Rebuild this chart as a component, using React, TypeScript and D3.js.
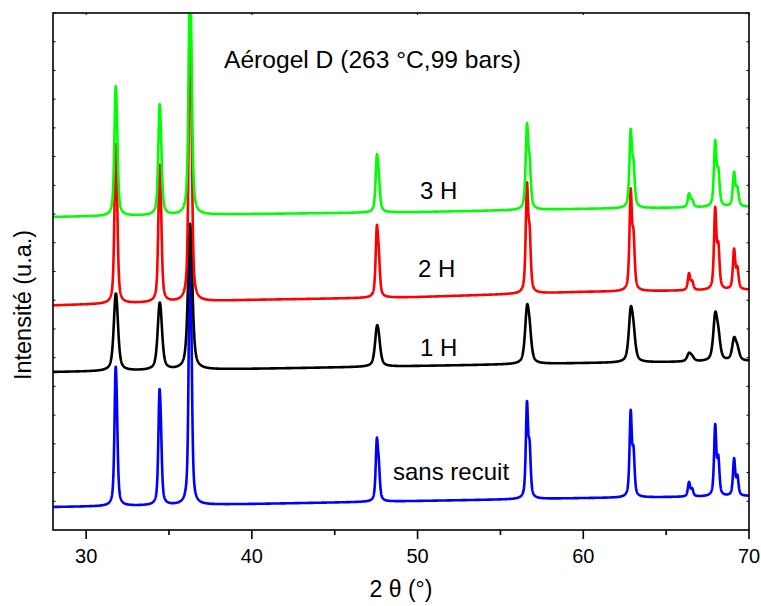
import React, { useMemo } from 'react';
import * as d3 from 'd3';

// ---- data ----
const seriesLabels = ['sans recuit', '1 H', '2 H', '3 H'];
const seriesColors = ['#0000ff', '#000000', '#ff0000', '#00ff00'];
// Peak positions (2θ, °): Kα1 and Kα2 components
const ka1Pos = [31.77, 34.42, 36.25, 47.54, 56.6, 62.86, 66.38, 67.96, 69.1];
const ka2Pos = [31.85, 34.51, 36.34, 47.66, 56.76, 63.03, 66.57, 68.15, 69.3];
// Peak heights per series (arbitrary units above the local baseline)
const blueKa1 = [3.8, 3.26, 7.5, 1.95, 3.18, 2.87, 0.49, 2.4, 1.26];
const blueKa2 = [1.9, 1.63, 3.75, 0.98, 1.59, 1.43, 0.25, 1.2, 0.63];
const blackKa1 = [1.91, 1.68, 3.65, 1.09, 1.69, 1.62, 0.26, 1.47, 0.71];
const blackKa2 = [0.95, 0.84, 1.82, 0.55, 0.85, 0.81, 0.13, 0.73, 0.36];
const redKa1 = [4.28, 3.8, 8.15, 2.18, 3.57, 3.34, 0.57, 2.74, 1.36];
const redKa2 = [2.14, 1.9, 4.08, 1.09, 1.79, 1.67, 0.28, 1.37, 0.68];
const greenKa1 = [3.44, 3.02, 6.53, 1.72, 2.75, 2.55, 0.46, 2.19, 1.15];
const greenKa2 = [1.72, 1.51, 3.26, 0.86, 1.38, 1.28, 0.23, 1.1, 0.58];
// Half widths at half maximum (°)
const halfWidths = [0.08, 0.14, 0.085, 0.09];
// Baselines (offset stacking)
const baselineX = [28, 40, 50, 60, 70];
const blueBase = [0.8, 0.905, 1.01, 1.11, 1.18];
const blackBase = [5.5, 5.61, 5.71, 5.81, 5.88];
const redBase = [7.82, 8.01, 8.11, 8.29, 8.36];
const greenBase = [10.9, 11.0, 11.07, 11.18, 11.25];

const xDomain = [28, 70];
const yDomain = [0, 18];
const xMajorTicks = [30, 40, 50, 60, 70];
const xMinorTicks = [35, 45, 55, 65];

const title = 'Aérogel D (263 °C,99 bars)';
const xTitle = '2 θ (°)';
const yTitle = 'Intensité (u.a.)';

const ka1Sets = [blueKa1, blackKa1, redKa1, greenKa1];
const ka2Sets = [blueKa2, blackKa2, redKa2, greenKa2];
const baseSets = [blueBase, blackBase, redBase, greenBase];

const W = 761;
const H = 606;
const M = { left: 53, right: 749, top: 13, bottom: 530 };
const FONT = '"Liberation Sans", Arial, Helvetica, sans-serif';

function pv(x: number, x0: number, h: number, w: number) {
  const r = (x - x0) / w;
  const r2 = r * r;
  const eta = 0.6;
  return h * (eta / (1 + r2) + (1 - eta) * Math.exp(-Math.LN2 * r2));
}

export default function App() {
  const x = d3.scaleLinear().domain(xDomain).range([M.left, M.right]);
  const y = d3.scaleLinear().domain(yDomain).range([M.bottom, M.top]);

  const paths = useMemo(() => {
    const grid = d3.range(xDomain[0], xDomain[1] + 1e-9, 0.01);
    return ka1Sets.map((ka1, si) => {
      const base = d3.scaleLinear().domain(baselineX).range(baseSets[si]);
      const w = halfWidths[si];
      const pts: [number, number][] = grid.map((t) => {
        let v = base(t);
        for (let k = 0; k < ka1Pos.length; k++) {
          v += pv(t, ka1Pos[k], ka1[k], w);
          v += pv(t, ka2Pos[k], ka2Sets[si][k], w);
        }
        return [t, v];
      });
      const line = d3
        .line<[number, number]>()
        .x((d) => x(d[0]))
        .y((d) => y(d[1]));
      return line(pts) || '';
    });
  }, []);

  const yTicks = d3.range(yDomain[0] + 1, yDomain[1] + 1, 1);

  return (
    <svg
      width={W}
      height={H}
      style={{ position: 'absolute', left: 0, top: 0, background: '#fff' }}
      fontFamily={FONT}
    >
      <rect x={0} y={0} width={W} height={H} fill="#fff" />
      <defs>
        <clipPath id="plotClip">
          <rect x={M.left} y={M.top} width={M.right - M.left} height={M.bottom - M.top} />
        </clipPath>
      </defs>
      <g clipPath="url(#plotClip)">
        {paths.map((d, i) => (
          <path
            key={i}
            d={d}
            fill="none"
            stroke={seriesColors[i]}
            strokeWidth={2.6}
            strokeLinejoin="round"
          />
        ))}
      </g>
      {/* frame */}
      <rect
        x={M.left}
        y={M.top}
        width={M.right - M.left}
        height={M.bottom - M.top}
        fill="none"
        stroke="#000"
        strokeWidth={1.6}
      />
      {/* bottom ticks */}
      {xMajorTicks.map((t) => (
        <g key={'M' + t}>
          <line x1={x(t)} x2={x(t)} y1={M.bottom} y2={M.bottom + 9} stroke="#000" strokeWidth={1.6} />
          <line x1={x(t)} x2={x(t)} y1={M.top} y2={M.top + 2} stroke="#000" strokeWidth={1} />
          <text x={x(t)} y={M.bottom + 33} textAnchor="middle" fontSize={20} fill="#000">
            {t}
          </text>
        </g>
      ))}
      {xMinorTicks.map((t) => (
        <line key={'m' + t} x1={x(t)} x2={x(t)} y1={M.bottom} y2={M.bottom + 5} stroke="#000" strokeWidth={1.6} />
      ))}
      {/* left / right small inward ticks */}
      {yTicks.map((t) => (
        <g key={'y' + t}>
          <line x1={M.left} x2={M.left + 2.5} y1={y(t)} y2={y(t)} stroke="#000" strokeWidth={1} />
          <line x1={M.right} x2={M.right - 2.5} y1={y(t)} y2={y(t)} stroke="#000" strokeWidth={1} />
        </g>
      ))}
      {/* axis titles */}
      <text x={401} y={597} textAnchor="middle" fontSize={23} fill="#000">
        {xTitle}
      </text>
      <text
        transform={`translate(31, 305) rotate(-90)`}
        textAnchor="middle"
        fontSize={23.5}
        fill="#000"
      >
        {yTitle}
      </text>
      {/* title and series labels */}
      <text x={224} y={68} fontSize={24.6} fill="#000">
        {title}
      </text>
      <text x={420} y={199} fontSize={24} fill="#000">
        {seriesLabels[3]}
      </text>
      <text x={418} y={277} fontSize={24} fill="#000">
        {seriesLabels[2]}
      </text>
      <text x={420} y={356} fontSize={24} fill="#000">
        {seriesLabels[1]}
      </text>
      <text x={393} y={480} fontSize={24} fill="#000">
        {seriesLabels[0]}
      </text>
    </svg>
  );
}
